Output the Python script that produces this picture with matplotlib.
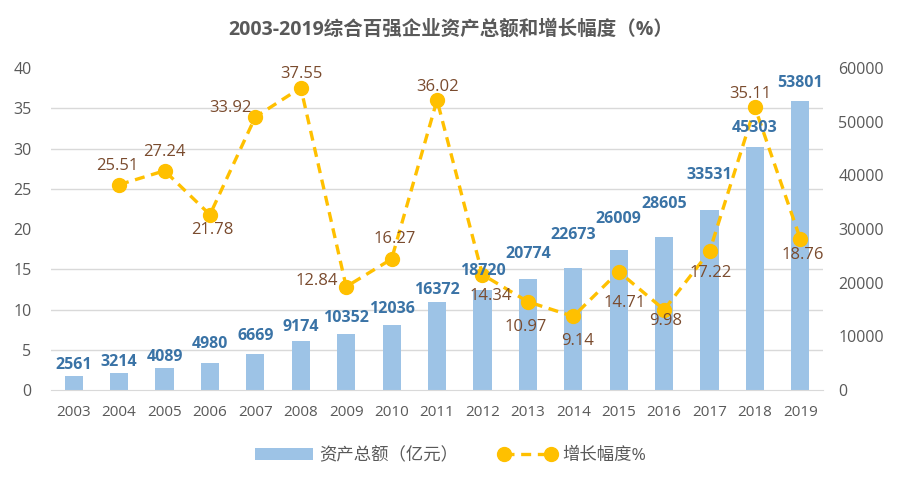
import numpy as np
import matplotlib
matplotlib.use("Agg")
from matplotlib import pyplot as plt

plt.rcParams['font.family'] = ['Open Sans', 'Noto Sans CJK SC', 'DejaVu Sans']

years = ['2003', '2004', '2005', '2006', '2007', '2008', '2009', '2010', '2011',
         '2012', '2013', '2014', '2015', '2016', '2017', '2018', '2019']
assets = [2561, 3214, 4089, 4980, 6669, 9174, 10352, 12036, 16372,
          18720, 20774, 22673, 26009, 28605, 33531, 45303, 53801]
growth_years = years[1:]
growth = [25.51, 27.24, 21.78, 33.92, 37.55, 12.84, 16.27, 36.02,
          14.34, 10.97, 9.14, 14.71, 9.98, 17.22, 35.11, 18.76]

# label offsets in pixels (dx, dy), as placed in the original chart
bar_label_dy = [11, 11, 11, 19, 18, 14, 16, 16, 12, 19, 25, 33, 31, 33, 35, 19, 18]
line_label_off = [(-2, 19), (0, 19), (2, -15), (-25, 9), (1, 14), (-29, 6), (3, 20), (1, 13),
                  (8, -21), (-2, -25), (4, -25), (6, -31), (2, -11), (1, -22), (-5, 13), (2, -16)]

bar_color = '#9DC3E6'
line_color = '#FFC000'
bar_text = '#3A73A6'
line_text = '#7A4B2E'
tick_color = '#595959'

fig = plt.figure(figsize=(9.02, 4.86), dpi=100)
ax = fig.add_axes([0.0565, 0.1975, 0.856, 0.6625])
ax2 = ax.twinx()

x = np.arange(len(years))
gx = np.arange(1, len(years))

# bars on the right axis
bars = ax.bar(x, assets, width=0.4, color=bar_color, zorder=2, label='资产总额（亿元）')
ax.set_ylim(0, 60000)
ax.set_yticks(np.arange(0, 60001, 10000))
ax.set_yticks(np.arange(0, 60001, 7500), minor=True)
ax.grid(axis='y', which='minor', color='#D9D9D9', linewidth=1, zorder=0)
ax.yaxis.tick_right()
ax.tick_params(axis='y', which='both', length=0, labelsize=11.5, colors=tick_color, pad=11)
ax.set_xlim(-0.5, len(years) - 0.5)
ax.set_xticks(x)
ax.set_xticklabels(years)
ax.tick_params(axis='x', length=0, labelsize=11, colors=tick_color, pad=11)
for s in ['top', 'left', 'right']:
    ax.spines[s].set_visible(False)
ax.spines['bottom'].set_color('#D9D9D9')

# line on the left axis
ax2.set_zorder(ax.get_zorder() + 1)
ax2.patch.set_visible(False)
line, = ax2.plot(gx, growth, color=line_color, linestyle=(0, (3, 2)), linewidth=2.4,
                 marker='o', markersize=10, label='增长幅度%', zorder=3)
ax2.set_ylim(0, 40)
ax2.set_yticks(np.arange(0, 41, 5))
ax2.yaxis.tick_left()
ax2.tick_params(axis='y', length=0, labelsize=11.5, colors=tick_color, pad=14)
for s in ['top', 'left', 'right', 'bottom']:
    ax2.spines[s].set_visible(False)

for xi, g, (dx, dy) in zip(gx, growth, line_label_off):
    ax2.annotate(f'{g:.2f}', (xi, g), xytext=(dx, dy), textcoords='offset pixels',
                 ha='center', va='center', fontsize=12, color=line_text, zorder=4)

for xi, v, dy in zip(x, assets, bar_label_dy):
    ax2.annotate(f'{v}', (xi, v), xycoords=ax.transData, xytext=(0, dy),
                 textcoords='offset pixels', ha='center', va='center', fontsize=11.5,
                 fontweight='bold', color=bar_text, zorder=5)

fig.text(0.5, 1 - 30 / 486, '2003-2019综合百强企业资产总额和增长幅度（%）', ha='center', va='center',
         fontsize=14, fontweight='bold', color=tick_color)

fig.legend([bars, line], ['资产总额（亿元）', '增长幅度%'], loc='center', bbox_to_anchor=(0.5, 1 - 456 / 486),
           ncol=2, frameon=False, fontsize=12.5, labelcolor=tick_color, handlelength=3.3,
           columnspacing=2.3, handletextpad=0.4, numpoints=2)

fig.savefig('out.png', dpi=100, facecolor='white')
